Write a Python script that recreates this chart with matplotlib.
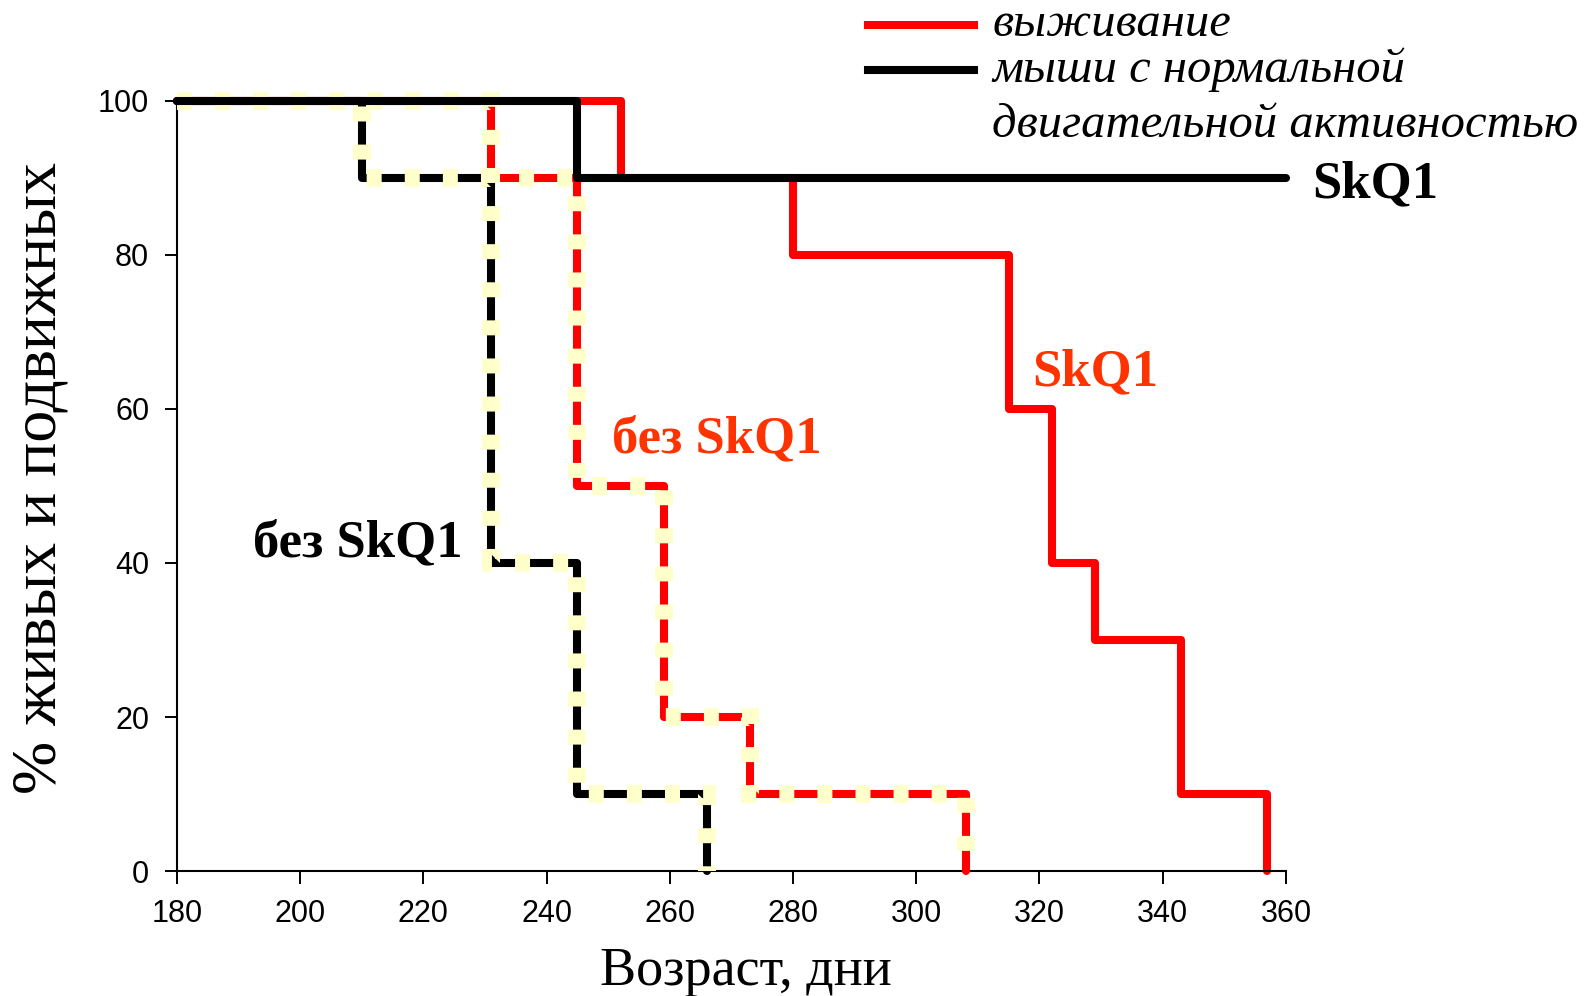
import matplotlib
matplotlib.use("Agg")
import matplotlib.pyplot as plt
from matplotlib.lines import Line2D

# Data (age in days, % of mice)
skq1_motor_x = [180, 245, 360]
skq1_motor_y = [100, 90, 90]
skq1_surv_x = [180, 252, 280, 315, 322, 329, 343, 357]
skq1_surv_y = [100, 90, 80, 60, 40, 30, 10, 0]
ctrl_surv_x = [180, 231, 245, 259, 273, 308]
ctrl_surv_y = [100, 90, 50, 20, 10, 0]
ctrl_motor_x = [180, 210, 231, 245, 266]
ctrl_motor_y = [100, 90, 40, 10, 0]
xticks = [180, 200, 220, 240, 260, 280, 300, 320, 340, 360]
yticks = [0, 20, 40, 60, 80, 100]

RED = "#FF0000"
TXT_RED = "#FF3300"
YEL = "#FFFFCC"
SERIF = "Liberation Serif"
SANS = "Liberation Sans"

fig = plt.figure(figsize=(15.86, 9.96), dpi=100)
ax = fig.add_axes([0.1116, 0.1255, 0.8108 - 0.1116, 0.8986 - 0.1255])

lw = 5.8
ylw = 13
ydash = (0.83, 1.28)
common = dict(drawstyle="steps-post", solid_joinstyle="round",
              solid_capstyle="round", clip_on=False)
ax.plot(skq1_surv_x, skq1_surv_y, color=RED, lw=lw, zorder=2, **common)
ax.plot(ctrl_surv_x, ctrl_surv_y, color=RED, lw=lw, zorder=3, **common)
ax.plot(ctrl_surv_x, ctrl_surv_y, color=YEL, lw=ylw, zorder=3.5,
        drawstyle="steps-post", dashes=ydash, dash_capstyle="butt",
        dash_joinstyle="miter", clip_on=False)
ax.plot(ctrl_motor_x, ctrl_motor_y, color="black", lw=lw, zorder=4, **common)
ax.plot(ctrl_motor_x, ctrl_motor_y, color=YEL, lw=ylw, zorder=4.5,
        drawstyle="steps-post", dashes=ydash, dash_capstyle="butt",
        dash_joinstyle="miter", clip_on=False)
ax.plot(skq1_motor_x, skq1_motor_y, color="black", lw=lw, zorder=5, **common)

ax.set_xlim(180, 360)
ax.set_ylim(0, 100)
ax.set_xticks(xticks)
ax.set_yticks(yticks)
for s in ["top", "right"]:
    ax.spines[s].set_visible(False)
for s in ["left", "bottom"]:
    ax.spines[s].set_linewidth(1.5)
ax.tick_params(direction="out", length=9, width=1.4, labelsize=22, pad=11)
for lab in ax.get_xticklabels() + ax.get_yticklabels():
    lab.set_fontfamily(SANS)

ax.set_xlabel("Возраст, дни", fontsize=39, fontfamily=SERIF)
ax.xaxis.set_label_coords(0.513, -0.098)
ax.set_ylabel("% живых и подвижных", fontsize=46, fontfamily=SERIF)
ax.yaxis.set_label_coords(-0.097, 0.51)

bold = dict(fontsize=38, fontweight="bold", fontfamily=SERIF, va="center",
            ha="left", clip_on=False)
ax.text(192.3, 42.6, "без SkQ1", color="black", **bold)
ax.text(250.6, 56.0, "без SkQ1", color=TXT_RED, **bold)
ax.text(318.8, 64.8, "SkQ1", color=TXT_RED, **bold)
ax.text(364.2, 89.2, "SkQ1", color="black", **bold)

# Legend drawn manually
W, H = 1586, 996
def fx(px):
    return px / W
def fy(py):
    return 1 - py / H
fig.add_artist(Line2D([fx(868), fx(974)], [fy(25), fy(25)], color=RED, lw=5.8))
fig.add_artist(Line2D([fx(868), fx(974)], [fy(70), fy(70)], color="black", lw=5.8))
leg = dict(fontsize=35, fontstyle="italic", fontfamily=SERIF, va="baseline", ha="left")
fig.text(fx(992), fy(36), "выживание", **leg)
fig.text(fx(992), fy(82), "мыши с нормальной", **leg)
fig.text(fx(992), fy(137), "двигательной активностью", **leg)

fig.savefig("out.png", dpi=100)
